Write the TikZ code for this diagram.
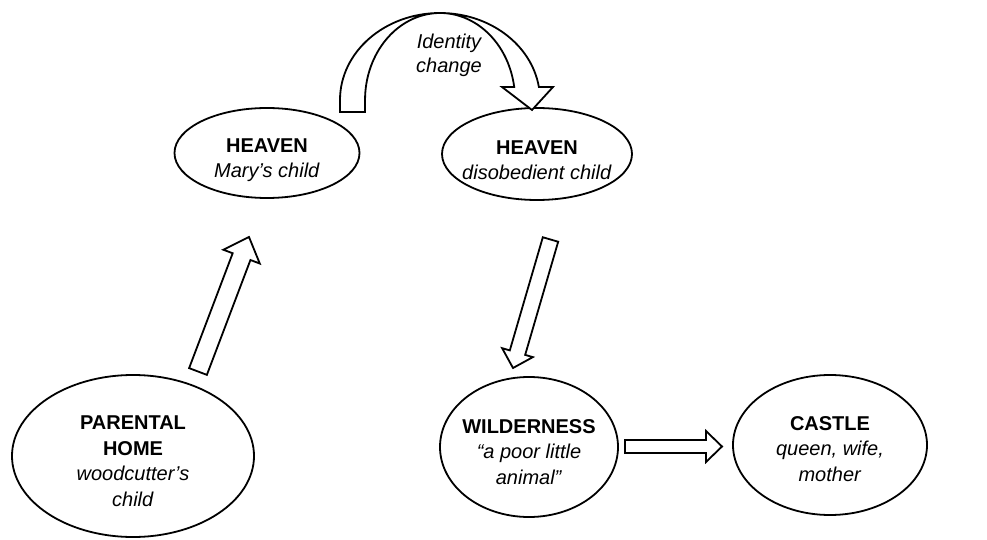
\documentclass[tikz,border=0pt]{standalone}
\usepackage{fontspec}
\setmainfont{Liberation Sans}
\usetikzlibrary{shapes.geometric,calc}
\tikzset{
  place/.style={ellipse,draw,line width=1.8pt,inner sep=0pt},
  lbl/.style={align=center,inner sep=0pt,font=\fontsize{20}{25.5}\selectfont},
  blockarrow/.style={draw,line width=1.8pt,fill=white,line join=miter},
}
\newcommand\blockarr[5]{%
  \coordinate (tmpc) at ($(#2)!#5!(#1)$);
  \draw[blockarrow] ($(#1)!#3!90:(#2)$) -- ($(tmpc)!#3!90:(#2)$) -- ($(tmpc)!#4!90:(#2)$)
    -- (#2) -- ($(tmpc)!#4!-90:(#2)$) -- ($(tmpc)!#3!-90:(#2)$) -- ($(#1)!#3!-90:(#2)$) -- cycle;}
\begin{document}
\begin{tikzpicture}[x=1pt,y=1pt]
\useasboundingbox (0,0) rectangle (987,539);
\node[place,minimum width=185pt,minimum height=90pt] (heaven1) at (267,386) {};
\node[lbl] (heaven1t) at ($(heaven1)+(0,-7)$) {\textbf{HEAVEN}\\\textit{Mary’s child}};
\node[place,minimum width=190pt,minimum height=92pt] (heaven2) at (537,385) {};
\node[lbl] (heaven2t) at ($(heaven2)+(0,-6)$) {\textbf{HEAVEN}\\\textit{disobedient child}};
\node[place,minimum width=242pt,minimum height=162pt] (home) at (133,83) {};
\node[lbl] (homet) at ($(home)+(0,-5)$)
  {\textbf{PARENTAL}\\\textbf{HOME}\\\textit{woodcutter’s}\\\textit{child}};
\node[place,minimum width=178pt,minimum height=140pt] (wild) at (529,92) {};
\node[lbl] (wildt) at ($(wild)+(0,-5)$)
  {\textbf{WILDERNESS}\\\textit{“a poor little}\\\textit{animal”}};
\node[place,minimum width=194pt,minimum height=140pt] (castle) at (830,94) {};
\node[lbl] (castlet) at ($(castle)+(0,-4)$)
  {\textbf{CASTLE}\\\textit{queen, wife,}\\\textit{mother}};
% block arrows
\coordinate (a1s) at (198,167.5); \coordinate (a1e) at (249,302);
\coordinate (a2s) at (550.5,299.5); \coordinate (a2e) at (513,171);
\coordinate (a3s) at (625,92.5); \coordinate (a3e) at (722,92.5);
\blockarr{a1s}{a1e}{9.5pt}{19.5pt}{21pt}
\blockarr{a2s}{a2e}{8pt}{16pt}{16pt}
\blockarr{a3s}{a3e}{6.5pt}{15.5pt}{16pt}
% curved arrow
\draw[blockarrow] (340,427) -- (340,439)
  arc[start angle=180,end angle=8.6,x radius=100,y radius=87]
  -- (553,452) -- (532,429) -- (502,452) -- (514.2,452)
  arc[start angle=8.6,end angle=180,x radius=75,y radius=87]
  -- (365,427) -- cycle;
\node[lbl,font=\fontsize{20}{24}\selectfont\itshape] (idc) at (449,484)
  {Identity\\change};
\end{tikzpicture}
\end{document}
